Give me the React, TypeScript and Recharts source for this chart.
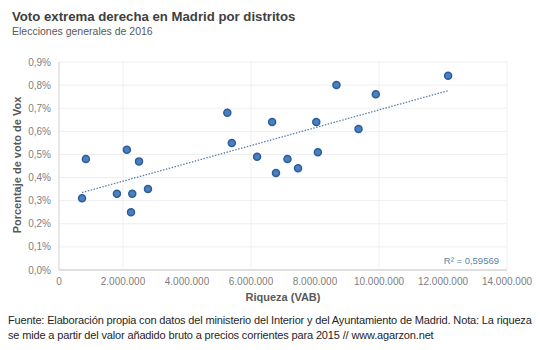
import { ScatterChart, Scatter, XAxis, YAxis, CartesianGrid, ReferenceLine } from "recharts";

// riqueza (VAB, euros) por distrito
const riqueza = [
  720000, 840000, 1810000, 2120000, 2290000, 2250000, 2500000, 2780000, 5260000, 5400000, 6190000,
  6660000, 6780000, 7140000, 7470000, 8040000, 8090000, 8670000, 9360000, 9900000, 12160000,
];
// porcentaje de voto de Vox
const votoVox = [
  0.31, 0.48, 0.33, 0.52, 0.33, 0.25, 0.47, 0.35, 0.68, 0.55, 0.49, 0.64, 0.42, 0.48, 0.44, 0.64,
  0.51, 0.8, 0.61, 0.76, 0.84,
];

const xTicks = [0, 2000000, 4000000, 6000000, 8000000, 10000000, 12000000, 14000000];
const yTicks = [0, 0.1, 0.2, 0.3, 0.4, 0.5, 0.6, 0.7, 0.8, 0.9];

// linea de tendencia (extremos)
const trendX = [720000, 12160000];
const trendY = [0.335, 0.776];
const r2Label = "R² = 0,59569";

const points = riqueza.map((x, i) => ({ x, y: votoVox[i] }));

const fmtMiles = (v: number) => String(v).replace(/\B(?=(\d{3})+(?!\d))/g, ".");
const fmtPct = (v: number) => v.toFixed(1).replace(".", ",") + "%";

const font = "'Liberation Sans', Arial, sans-serif";

function Dot(props: any) {
  const { cx, cy } = props;
  return <circle cx={cx} cy={cy} r={3.5} fill="#4a7fc0" stroke="#2c5d99" strokeWidth={1.5} />;
}

export default function App() {
  return (
    <div
      style={{
        position: "absolute",
        left: 0,
        top: 0,
        width: 540,
        height: 350,
        background: "#fff",
        fontFamily: font,
      }}
    >
      <div style={{ position: "absolute", left: 12, top: 9, fontSize: 13.2, fontWeight: "bold", color: "#404040" }}>
        Voto extrema derecha en Madrid por distritos
      </div>
      <div style={{ position: "absolute", left: 12, top: 25, fontSize: 10.5, color: "#595959" }}>
        Elecciones generales de 2016
      </div>

      <ScatterChart width={540} height={350} margin={{ top: 62, right: 33, bottom: 50, left: 0 }}>
        <CartesianGrid stroke="#efefef" />
        <XAxis
          type="number"
          dataKey="x"
          domain={[0, 14000000]}
          ticks={xTicks}
          tickFormatter={fmtMiles}
          tickLine={false}
          axisLine={{ stroke: "#c8c8c8" }}
          tick={{ fill: "#808080", fontSize: 10, fontFamily: font }}
          height={30}
        />
        <YAxis
          type="number"
          dataKey="y"
          domain={[0, 0.9]}
          ticks={yTicks}
          tickFormatter={fmtPct}
          tickLine={false}
          axisLine={{ stroke: "#d9d9d9" }}
          tick={{ fill: "#808080", fontSize: 10, fontFamily: font }}
          width={59}
        />
        <ReferenceLine
          segment={[
            { x: trendX[0], y: trendY[0] },
            { x: trendX[1], y: trendY[1] },
          ]}
          stroke="#5b7fae"
          strokeWidth={1.3}
          strokeDasharray="1.5 1.5"
          ifOverflow="visible"
        />
        <Scatter data={points} shape={<Dot />} isAnimationActive={false} />
      </ScatterChart>

      <div style={{ position: "absolute", right: 41, top: 255, fontSize: 9.5, color: "#5b7fa8" }}>{r2Label}</div>

      <div
        style={{
          position: "absolute",
          left: 17,
          top: 165,
          transform: "translate(-50%, -50%) rotate(-90deg)",
          fontSize: 11,
          fontWeight: "bold",
          color: "#595959",
          whiteSpace: "nowrap",
        }}
      >
        Porcentaje de voto de Vox
      </div>
      <div
        style={{
          position: "absolute",
          left: 283,
          top: 291,
          transform: "translateX(-50%)",
          fontSize: 11,
          fontWeight: "bold",
          color: "#595959",
          whiteSpace: "nowrap",
        }}
      >
        Riqueza (VAB)
      </div>

      <div
        style={{
          position: "absolute",
          left: 8,
          top: 313,
          fontSize: 11,
          letterSpacing: -0.15,
          color: "#262626",
          lineHeight: "15px",
          whiteSpace: "nowrap",
        }}
      >
        Fuente: Elaboración propia con datos del ministerio del Interior y del Ayuntamiento de Madrid. Nota: La riqueza
        <br />
        se mide a partir del valor añadido bruto a precios corrientes para 2015 // www.agarzon.net
      </div>
    </div>
  );
}
